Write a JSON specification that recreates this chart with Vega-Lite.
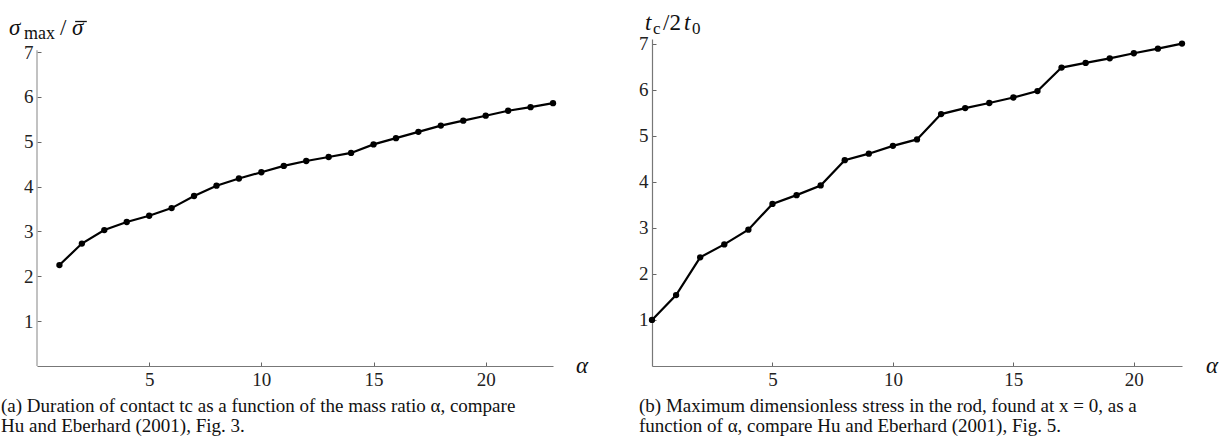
{
  "$schema": "https://vega.github.io/schema/vega-lite/v6.json",
  "padding": {"left": 1, "top": 12, "right": 0, "bottom": 0},
  "background": "white",
  "config": {
    "view": {"stroke": null},
    "font": "Liberation Serif",
    "axis": {
      "grid": false,
      "title": null,
      "labelFont": "Liberation Serif",
      "labelFontSize": 19,
      "labelColor": "#222",
      "tickSize": -4,
      "tickColor": "#666",
      "domainColor": "#777",
      "domainWidth": 1.2,
      "labelPadding": 8
    }
  },
  "datasets": {
    "a": [
      {"alpha": 1, "value": 2.25}, {"alpha": 2, "value": 2.73}, {"alpha": 3, "value": 3.03},
      {"alpha": 4, "value": 3.21}, {"alpha": 5, "value": 3.35}, {"alpha": 6, "value": 3.52},
      {"alpha": 7, "value": 3.79}, {"alpha": 8, "value": 4.02}, {"alpha": 9, "value": 4.18},
      {"alpha": 10, "value": 4.32}, {"alpha": 11, "value": 4.46}, {"alpha": 12, "value": 4.57},
      {"alpha": 13, "value": 4.66}, {"alpha": 14, "value": 4.75}, {"alpha": 15, "value": 4.94},
      {"alpha": 16, "value": 5.08}, {"alpha": 17, "value": 5.22}, {"alpha": 18, "value": 5.36},
      {"alpha": 19, "value": 5.47}, {"alpha": 20, "value": 5.58}, {"alpha": 21, "value": 5.69},
      {"alpha": 22, "value": 5.77}, {"alpha": 23, "value": 5.86}
    ],
    "b": [
      {"alpha": 0, "value": 1.0}, {"alpha": 1, "value": 1.54}, {"alpha": 2, "value": 2.36},
      {"alpha": 3, "value": 2.64}, {"alpha": 4, "value": 2.96}, {"alpha": 5, "value": 3.52},
      {"alpha": 6, "value": 3.71}, {"alpha": 7, "value": 3.92}, {"alpha": 8, "value": 4.47},
      {"alpha": 9, "value": 4.61}, {"alpha": 10, "value": 4.78}, {"alpha": 11, "value": 4.92},
      {"alpha": 12, "value": 5.47}, {"alpha": 13, "value": 5.6}, {"alpha": 14, "value": 5.71},
      {"alpha": 15, "value": 5.83}, {"alpha": 16, "value": 5.97}, {"alpha": 17, "value": 6.48},
      {"alpha": 18, "value": 6.58}, {"alpha": 19, "value": 6.68}, {"alpha": 20, "value": 6.79},
      {"alpha": 21, "value": 6.89}, {"alpha": 22, "value": 7.0}
    ],
    "one": [{}]
  },
  "bounds": "flush",
  "spacing": 99,
  "hconcat": [
    {
      "width": 516,
      "height": 327,
      "title": {
        "text": ["(a) Duration of contact tc as a function of the mass ratio α, compare", "Hu and Eberhard (2001), Fig. 3."],
        "orient": "bottom",
        "anchor": "start",
        "frame": "group",
        "font": "Liberation Serif",
        "fontSize": 19,
        "fontWeight": "normal",
        "color": "#111",
        "lineHeight": 20,
        "dx": -36,
        "offset": 8
      },
      "layer": [
        {
          "data": {"name": "a"},
          "mark": {"type": "line", "color": "black", "strokeWidth": 2.2},
          "encoding": {
            "x": {"field": "alpha", "type": "quantitative", "scale": {"domain": [0, 23], "nice": false, "zero": false},
                  "axis": {"values": [5, 10, 15, 20]}},
            "y": {"field": "value", "type": "quantitative", "scale": {"domain": [0, 7.29], "nice": false},
                  "axis": {"values": [1, 2, 3, 4, 5, 6, 7], "domain": false}}
          }
        },
        {
          "data": {"name": "a"},
          "mark": {"type": "point", "filled": true, "color": "black", "size": 40, "opacity": 1},
          "encoding": {
            "x": {"field": "alpha", "type": "quantitative"},
            "y": {"field": "value", "type": "quantitative"}
          }
        },
        {
          "data": {"name": "one"},
          "mark": {"type": "rule", "color": "#999", "strokeWidth": 1.2},
          "encoding": {"x": {"datum": 0}, "y": {"datum": 0}, "y2": {"datum": 7.04}}
        },
        {
          "data": {"name": "one"},
          "mark": {"type": "text", "text": "σ", "fontStyle": "italic", "fontSize": 23, "align": "left", "baseline": "alphabetic", "dx": -28, "dy": -4, "color": "#111"},
          "encoding": {"x": {"datum": 0}, "y": {"datum": 7.29}}
        },
        {
          "data": {"name": "one"},
          "mark": {"type": "text", "text": "max", "fontSize": 18, "align": "left", "baseline": "alphabetic", "dx": -13, "dy": 0, "color": "#111"},
          "encoding": {"x": {"datum": 0}, "y": {"datum": 7.29}}
        },
        {
          "data": {"name": "one"},
          "mark": {"type": "text", "text": "/", "fontSize": 23, "align": "left", "baseline": "alphabetic", "dx": 23, "dy": -4, "color": "#111"},
          "encoding": {"x": {"datum": 0}, "y": {"datum": 7.29}}
        },
        {
          "data": {"name": "one"},
          "mark": {"type": "text", "text": "σ", "fontStyle": "italic", "fontSize": 23, "align": "left", "baseline": "alphabetic", "dx": 35, "dy": -4, "color": "#111"},
          "encoding": {"x": {"datum": 0}, "y": {"datum": 7.29}}
        },
        {
          "data": {"name": "one"},
          "mark": {"type": "rule", "color": "#111", "strokeWidth": 1.3},
          "encoding": {"x": {"datum": 1.7}, "x2": {"datum": 2.22}, "y": {"datum": 7.68}}
        },
        {
          "data": {"name": "one"},
          "mark": {"type": "text", "text": "α", "fontStyle": "italic", "fontSize": 23, "align": "center", "baseline": "middle", "dx": 29, "dy": 0, "color": "#111"},
          "encoding": {"x": {"datum": 23}, "y": {"datum": 0}}
        }
      ]
    },
    {
      "width": 530,
      "height": 327,
      "title": {
        "text": ["(b) Maximum dimensionless stress in the rod, found at x = 0, as a", "function of α, compare Hu and Eberhard (2001), Fig. 5."],
        "orient": "bottom",
        "anchor": "start",
        "frame": "group",
        "font": "Liberation Serif",
        "fontSize": 19,
        "fontWeight": "normal",
        "color": "#111",
        "lineHeight": 20,
        "dx": -13,
        "offset": 8
      },
      "layer": [
        {
          "data": {"name": "b"},
          "mark": {"type": "line", "color": "black", "strokeWidth": 2.2},
          "encoding": {
            "x": {"field": "alpha", "type": "quantitative", "scale": {"domain": [0, 22], "nice": false, "zero": false},
                  "axis": {"values": [5, 10, 15, 20]}},
            "y": {"field": "value", "type": "quantitative", "scale": {"domain": [0, 7.1], "nice": false},
                  "axis": {"values": [1, 2, 3, 4, 5, 6, 7]}}
          }
        },
        {
          "data": {"name": "b"},
          "mark": {"type": "point", "filled": true, "color": "black", "size": 40, "opacity": 1},
          "encoding": {
            "x": {"field": "alpha", "type": "quantitative"},
            "y": {"field": "value", "type": "quantitative"}
          }
        },
        {
          "data": {"name": "one"},
          "mark": {"type": "text", "text": "t", "fontStyle": "italic", "fontSize": 23, "align": "left", "baseline": "alphabetic", "dx": -7, "dy": -9, "color": "#111"},
          "encoding": {"x": {"datum": 0}, "y": {"datum": 7.1}}
        },
        {
          "data": {"name": "one"},
          "mark": {"type": "text", "text": "c", "fontSize": 17, "align": "left", "baseline": "alphabetic", "dx": 1, "dy": -5, "color": "#111"},
          "encoding": {"x": {"datum": 0}, "y": {"datum": 7.1}}
        },
        {
          "data": {"name": "one"},
          "mark": {"type": "text", "text": "/2", "fontSize": 23, "align": "left", "baseline": "alphabetic", "dx": 11, "dy": -9, "color": "#111"},
          "encoding": {"x": {"datum": 0}, "y": {"datum": 7.1}}
        },
        {
          "data": {"name": "one"},
          "mark": {"type": "text", "text": "t", "fontStyle": "italic", "fontSize": 23, "align": "left", "baseline": "alphabetic", "dx": 32, "dy": -9, "color": "#111"},
          "encoding": {"x": {"datum": 0}, "y": {"datum": 7.1}}
        },
        {
          "data": {"name": "one"},
          "mark": {"type": "text", "text": "0", "fontSize": 17, "align": "left", "baseline": "alphabetic", "dx": 40, "dy": -5, "color": "#111"},
          "encoding": {"x": {"datum": 0}, "y": {"datum": 7.1}}
        },
        {
          "data": {"name": "one"},
          "mark": {"type": "text", "text": "α", "fontStyle": "italic", "fontSize": 23, "align": "center", "baseline": "middle", "dx": 30, "dy": 0, "color": "#111"},
          "encoding": {"x": {"datum": 22}, "y": {"datum": 0}}
        }
      ]
    }
  ]
}
